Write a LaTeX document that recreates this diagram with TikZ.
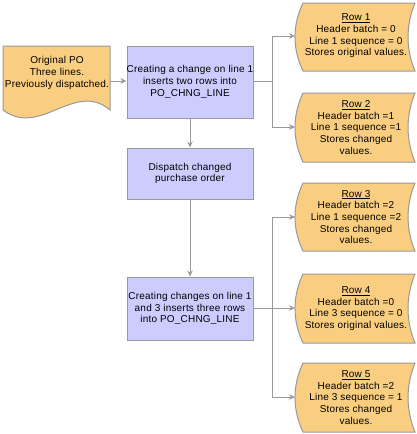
\documentclass[tikz,border=0pt]{standalone}
\usepackage{fontspec}
\setmainfont{Liberation Sans}[LetterSpace=2]
\usetikzlibrary{arrows.meta}
\definecolor{edgegray}{HTML}{999999}
\definecolor{docfill}{HTML}{FACE80}
\definecolor{boxfill}{HTML}{CCCCFF}
\tikzset{
  procbox/.style={draw=edgegray, fill=boxfill, line width=1pt, minimum width=126pt, inner sep=0pt},
  shapeline/.style={draw=edgegray, fill=docfill, line width=1pt},
  txt/.style={align=center, font=\fontsize{10}{11.7}\selectfont, inner sep=0pt},
  conn/.style={draw=edgegray, line width=1pt},
  arr/.style={conn, -{Stealth[length=6pt,width=5.5pt,inset=2pt]}},
}
\newcommand{\rowshape}[2]{% top, bottom
  \path[shapeline] (303,#1) -- (415,#1) .. controls (405.7,#1+0.33*#2-0.33*#1) and (405.7,#2-0.33*#2+0.33*#1) .. (415,#2)
    -- (303,#2) .. controls (292.3,#2-0.33*#2+0.33*#1) and (292.3,#1+0.33*#2-0.33*#1) .. cycle;}
\begin{document}
\begin{tikzpicture}[x=1pt,y=-1pt]
\useasboundingbox (0,0) rectangle (417,434);
% document shape
\path[shapeline] (3,46) -- (110,46) -- (110,110) .. controls (75,80) and (40,138) .. (3,110) -- cycle;
\node[txt] (doc) at (57,73) {Original PO\\Three lines.\\Previously dispatched.};
\coordinate (doce) at (110,81);
% process boxes
\node[procbox, minimum height=72pt] (b1) at (190,82) {};
\node[txt] at (b1.center) {Creating a change on line 1\\inserts two rows into\\PO\_CHNG\_LINE};
\node[procbox, minimum height=51pt] (b2) at (190,173.5) {};
\node[txt] at (b2.center) {Dispatch changed\\purchase order};
\node[procbox, minimum height=63pt] (b3) at (190,308.5) {};
\node[txt] at (b3.center) {Creating changes on line 1\\and 3 inserts three rows\\into PO\_CHNG\_LINE};
% row shapes
\rowshape{3}{71}
\node[txt] (r1) at (356,36) {\underline{Row 1}\\Header batch = 0\\Line 1 sequence = 0\\Stores original values.};
\rowshape{93}{162}
\node[txt] (r2) at (356,127.5) {\underline{Row 2}\\Header batch =1\\Line 1 sequence =1\\Stores changed\\values.};
\rowshape{183}{251}
\node[txt] (r3) at (356,217) {\underline{Row 3}\\Header batch =2\\Line 1 sequence =2\\Stores changed\\values.};
\rowshape{274}{343}
\node[txt] (r4) at (356,308.5) {\underline{Row 4}\\Header batch =0\\Line 3 sequence = 0\\Stores original values.};
\rowshape{363}{432}
\node[txt] (r5) at (356,397.5) {\underline{Row 5}\\Header batch =2\\Line 3 sequence = 1\\Stores changed\\values.};
\coordinate (r1w) at (295,36);
\coordinate (r2w) at (295,127);
\coordinate (r3w) at (295,217);
\coordinate (r4w) at (295,308);
\coordinate (r5w) at (295,397);
\coordinate (j1) at (272,81);
\coordinate (j2) at (272,308);
\coordinate (b1o) at (253,81);
\coordinate (b3o) at (253,308);
% connectors
\draw[arr] (doce) -- (b1o -| b1.west);
\draw[arr] (b1.south) -- (b2.north);
\draw[arr] (b2.south) -- (b3.north);
\draw[conn] (b1o) -- (j1);
\draw[arr] (j1) |- (r1w);
\draw[arr] (j1) |- (r2w);
\draw[conn] (b3o) -- (j2);
\draw[arr] (j2) |- (r3w);
\draw[arr] (j2) -- (r4w);
\draw[arr] (j2) |- (r5w);
\end{tikzpicture}
\end{document}
